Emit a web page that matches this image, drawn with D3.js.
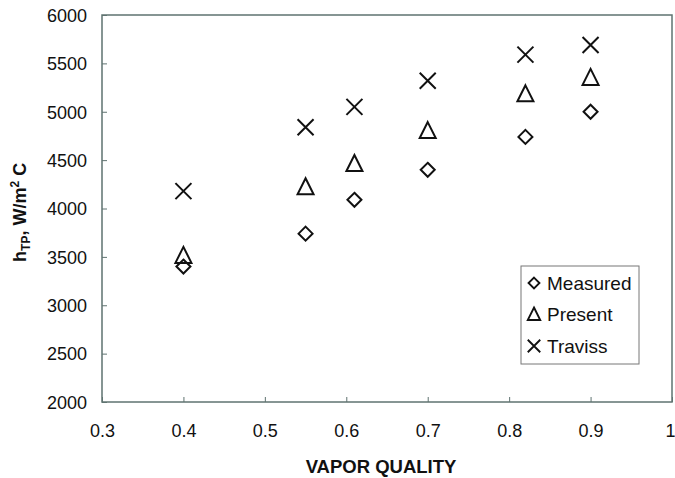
<!DOCTYPE html>
<html>
<head>
<meta charset="utf-8">
<script src="https://cdn.jsdelivr.net/npm/d3@7"></script>
<style>
  body { margin: 0; background: #fff; }
  text { font-family: Arial, "Liberation Sans", sans-serif; }
</style>
</head>
<body>
<svg id="chart" width="675" height="478"></svg>
<script>
// data
var quality = [0.40, 0.55, 0.61, 0.70, 0.82, 0.90];
var measured = [3400, 3740, 4090, 4400, 4740, 5000];
var present = [3510, 4220, 4460, 4800, 5180, 5350];
var traviss = [4180, 4840, 5050, 5320, 5590, 5690];
var xTicks = [0.3, 0.4, 0.5, 0.6, 0.7, 0.8, 0.9, 1];
var yTicks = [2000, 2500, 3000, 3500, 4000, 4500, 5000, 5500, 6000];

var series = [
  {name: 'Measured', values: measured, symbol: 'diamond'},
  {name: 'Present', values: present, symbol: 'triangle'},
  {name: 'Traviss', values: traviss, symbol: 'cross'}
];

// layout
var margin = {top: 15, right: 3, bottom: 76, left: 102};
var width = 675 - margin.left - margin.right;
var height = 478 - margin.top - margin.bottom;
var axisColor = '#5f7370';

var x = d3.scaleLinear().domain([0.3, 1]).range([0, width]);
var y = d3.scaleLinear().domain([2000, 6000]).range([height, 0]);

var svg = d3.select('#chart')
  .append('g')
    .attr('transform', 'translate(' + margin.left + ',' + margin.top + ')');

// frame
svg.append('rect')
  .attr('width', width)
  .attr('height', height)
  .attr('fill', 'none')
  .attr('stroke', axisColor)
  .attr('stroke-width', 1.5);

// axes, ticks pointing inward
var xAxis = svg.append('g')
  .attr('transform', 'translate(0,' + height + ')')
  .call(d3.axisBottom(x).tickValues(xTicks).tickSize(-5).tickPadding(22)
    .tickFormat(function(d) { return d === 1 ? '1' : d3.format('.1f')(d); }));
var yAxis = svg.append('g')
  .call(d3.axisLeft(y).tickValues(yTicks).tickSize(-5).tickPadding(15)
    .tickFormat(d3.format('d')));

[xAxis, yAxis].forEach(function(a) {
  a.select('.domain').remove();
  a.selectAll('line').attr('stroke', axisColor).attr('stroke-width', 1);
  a.selectAll('text')
    .attr('fill', '#111')
    .style('font-size', '18px')
    .style('font-family', 'Arial, "Liberation Sans", sans-serif');
});
yAxis.selectAll('text').attr('dy', '0.35em');
// keep the last x label inside the picture
xAxis.selectAll('.tick text').filter(function(d) { return d === 1; }).attr('dx', -2);

// axis titles
svg.append('text')
  .attr('x', width / 2 - 6)
  .attr('y', height + 71)
  .attr('text-anchor', 'middle')
  .style('font-size', '18.5px')
  .style('font-weight', 'bold')
  .attr('fill', '#111')
  .text('VAPOR QUALITY');

var yTitle = svg.append('text')
  .attr('transform', 'translate(-76,' + y(3960) + ') rotate(-90)')
  .attr('text-anchor', 'middle')
  .style('font-size', '18px')
  .style('font-weight', 'bold')
  .attr('fill', '#111');
yTitle.append('tspan').text('h');
yTitle.append('tspan').attr('dy', 4).style('font-size', '12px').text('TP');
yTitle.append('tspan').attr('dy', -4).text(', W/m');
yTitle.append('tspan').attr('dy', -7).style('font-size', '12px').text('2');
yTitle.append('tspan').attr('dy', 7).text(' C');

// marker shapes
function markerPath(symbol) {
  if (symbol === 'diamond') return 'M0,-7L7,0L0,7L-7,0Z';
  if (symbol === 'triangle') return 'M0,-9L8,7L-8,7Z';
  return 'M-8,-8L8,8M-8,8L8,-8';
}

series.forEach(function(s) {
  svg.selectAll('path.' + s.name)
    .data(s.values)
    .enter()
    .append('path')
      .classed(s.name, true)
      .attr('transform', function(d, i) {
        return 'translate(' + x(quality[i]) + ',' + y(d) + ')';
      })
      .attr('d', markerPath(s.symbol))
      .attr('fill', 'none')
      .attr('stroke', '#111')
      .attr('stroke-width', 2);
});

// legend
var legend = svg.append('g')
  .attr('transform', 'translate(' + (521 - margin.left) + ',' + (266 - margin.top) + ')');
legend.append('rect')
  .attr('width', 118)
  .attr('height', 98)
  .attr('fill', '#fff')
  .attr('stroke', '#777')
  .attr('stroke-width', 1);
series.forEach(function(s, i) {
  var ly = 17 + i * 31.5;
  legend.append('path')
    .attr('transform', 'translate(13,' + ly + ') scale(0.78)')
    .attr('d', markerPath(s.symbol))
    .attr('fill', 'none')
    .attr('stroke', '#111')
    .attr('stroke-width', 2.4);
  legend.append('text')
    .attr('x', 26)
    .attr('y', ly)
    .attr('dy', '0.35em')
    .style('font-size', '19px')
    .attr('fill', '#111')
    .text(s.name);
});
</script>
</body>
</html>
